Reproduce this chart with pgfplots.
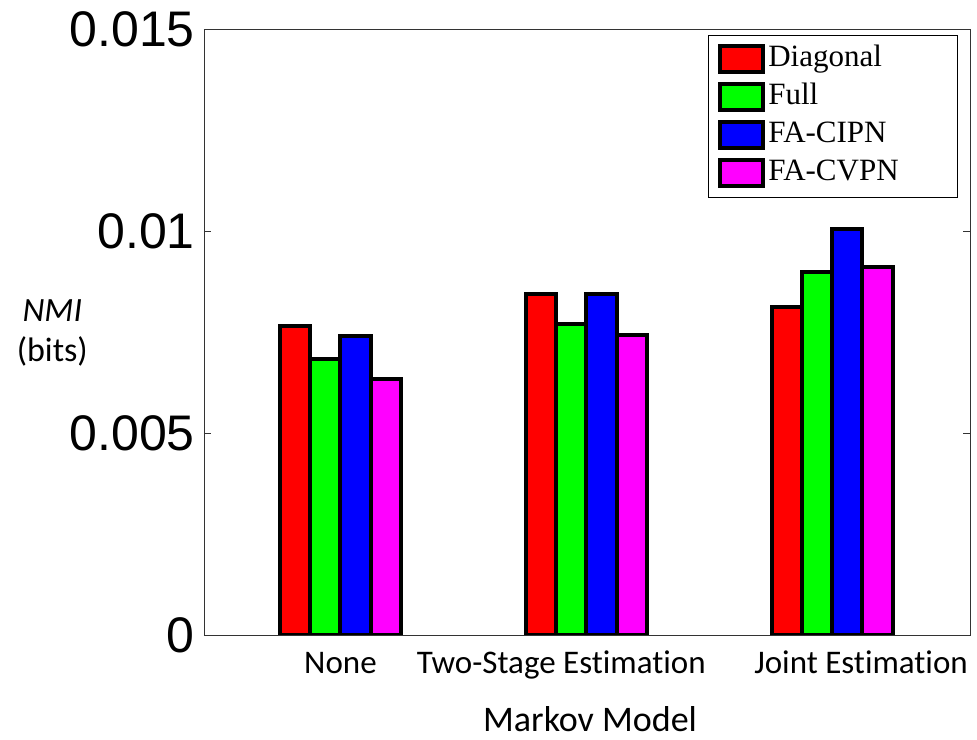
\documentclass[border=0pt]{standalone}
\usepackage{pgfplots}
\pgfplotsset{compat=1.18}
\usepackage{fontspec}
\setmainfont{Liberation Sans}
\newfontfamily\calibrifont[Ligatures=NoCommon]{Carlito}
\newfontfamily\timesfont{Liberation Serif}
\newfontfamily\arialfont{Liberation Sans}
\definecolor{cred}{RGB}{255,0,0}
\definecolor{cgreen}{RGB}{0,255,0}
\definecolor{cblue}{RGB}{0,0,255}
\definecolor{cmag}{RGB}{255,0,255}
\pgfplotsset{
  mybar/.style 2 args={ybar, bar width=0.1225, bar shift=#2, draw=black,
    line width=4pt, fill=#1,
    legend image code/.code={\filldraw[##1] (0pt,-13pt) rectangle (43pt,13pt);}},
}
\begin{document}
\begin{tikzpicture}
\begin{axis}[
  scale only axis, width=766pt, height=606pt,
  xmin=0.445, xmax=3.56, ymin=0, ymax=0.015,
  scaled y ticks=false,
  axis line style={line width=0.8pt, black!80},
  tick align=inside, major tick length=7pt,
  xtick={1,1.898,3.117},
  xticklabels={None,Two-Stage Estimation,Joint Estimation},
  xtick style={draw=none},
  x tick label style={font=\calibrifont\fontsize{33}{39}\selectfont,
    inner sep=0pt, text height=21pt, text depth=0pt, yshift=-17pt},
  ytick={0,0.005,0.01,0.015},
  yticklabels={0,0.005,0.01,0.015},
  ytick style={line width=0.8pt, black!80},
  y tick label style={font=\arialfont\fontsize{50}{60}\selectfont,
    inner sep=0pt, xshift=-9pt},
  xlabel={Markov Model},
  xlabel style={font=\calibrifont\fontsize{36}{42}\selectfont,
    at={(axis description cs:0.504,0)}, anchor=base, inner sep=0pt, yshift=-97pt},
  ylabel={\textit{NMI}\\(bits)},
  ylabel style={font=\calibrifont\fontsize{34}{40}\selectfont, align=center,
    rotate=-90, at={(axis description cs:-0.198,0.498)}, anchor=center, inner sep=0pt},
  legend style={at={(axis description cs:0.984,0.990)}, anchor=north east,
    draw=black, line width=0.8pt, fill=white,
    font=\timesfont\fontsize{31}{37}\selectfont,
    inner xsep=10pt, inner ysep=9pt, row sep=8pt,
    nodes={inner xsep=3pt, inner ysep=1pt, text height=21pt, text depth=7pt,
      text width=176pt}},
  legend cell align=left,
]
\addplot[mybar={cred}{-0.18375}] coordinates {(1,0.00766) (2,0.00844) (3,0.00813)};
\addplot[mybar={cgreen}{-0.06125}] coordinates {(1,0.00684) (2,0.00770) (3,0.00899)};
\addplot[mybar={cblue}{0.06125}] coordinates {(1,0.00739) (2,0.00844) (3,0.01006)};
\addplot[mybar={cmag}{0.18375}] coordinates {(1,0.00634) (2,0.00742) (3,0.00912)};
\legend{Diagonal,Full,FA-CIPN,FA-CVPN}
\end{axis}
\pgfresetboundingbox
\path[use as bounding box] ([shift={(-204pt,-105pt)}]current axis.south west)
  rectangle ([shift={(7pt,29pt)}]current axis.north east);
\end{tikzpicture}
\end{document}
